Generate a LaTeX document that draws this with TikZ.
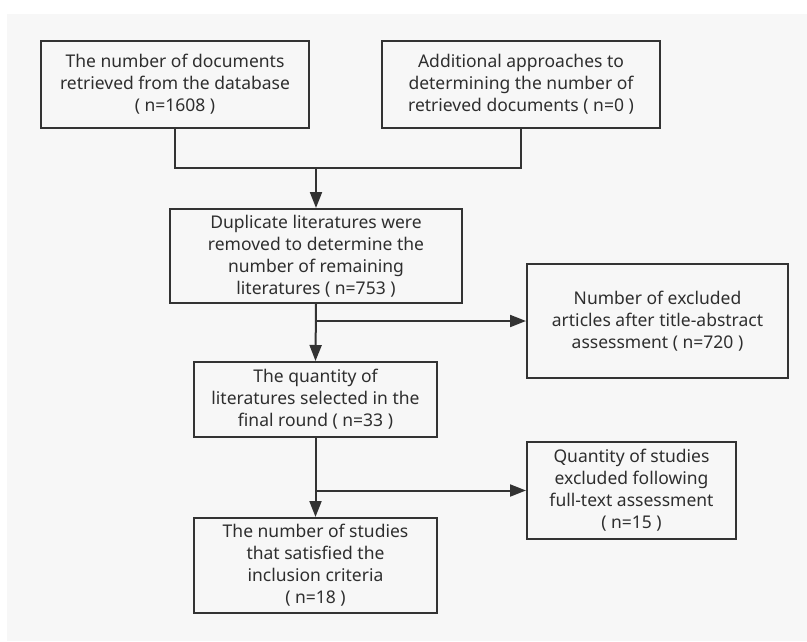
\documentclass[tikz,border=0pt]{standalone}
\usepackage{fontspec}
\setmainfont{Noto Sans}
\usetikzlibrary{arrows.meta}
\definecolor{bgc}{HTML}{F7F7F7}
\definecolor{linec}{HTML}{333333}
\definecolor{txtc}{HTML}{2E2E2E}
\begin{document}
\begin{tikzpicture}[x=1pt,y=-1pt,
  box/.style={draw=linec, line width=2pt, fill=bgc, align=center, inner sep=0pt,
    text=txtc, font=\fontsize{17.5}{22}\selectfont},
  conn/.style={draw=linec, line width=2pt},
  arr/.style={conn, -{Triangle[length=16pt,width=12pt]}}]
\useasboundingbox (0,0) rectangle (807,641);
\fill[white] (0,0) rectangle (807,641);
\fill[bgc] (7,14) rectangle (807,641);
\node[box, minimum width=268pt, minimum height=87pt] (b1) at (175,84.5)
  {The number of documents\\retrieved from the database\\( n=1608 )};
\node[box, minimum width=278pt, minimum height=87pt] (b2) at (521,84.5)
  {Additional approaches to\\determining the number of\\retrieved documents ( n=0 )};
\node[box, minimum width=292pt, minimum height=94pt] (b3) at (316,256)
  {Duplicate literatures were\\removed to determine the\\number of remaining\\literatures ( n=753 )};
\node[box, minimum width=261pt, minimum height=114pt] (b4) at (657.5,321)
  {Number of excluded\\articles after title-abstract\\assessment ( n=720 )};
\node[box, minimum width=243pt, minimum height=75pt] (b5) at (315.5,399.5)
  {The quantity of\\literatures selected in the\\final round ( n=33 )};
\node[box, minimum width=209pt, minimum height=97pt] (b6) at (631.5,490.5)
  {Quantity of studies\\excluded following\\full-text assessment\\( n=15 )};
\node[box, minimum width=243pt, minimum height=95pt] (b7) at (315.5,565.5)
  {The number of studies\\that satisfied the\\inclusion criteria\\( n=18 )};
\coordinate (m1) at (316,168);
\coordinate (m2) at (316,321);
\coordinate (m3) at (316,490.5);
\draw[conn] (b1.south) -- (b1.south |- m1) -- (b2.south |- m1) -- (b2.south);
\draw[arr] (m1) -- (b3.north);
\draw[arr] (b3.south) -- (b5.north);
\draw[arr] (m2) -- (b4.west);
\draw[arr] (b5.south) -- (b7.north);
\draw[arr] (m3) -- (b6.west);
\end{tikzpicture}
\end{document}
